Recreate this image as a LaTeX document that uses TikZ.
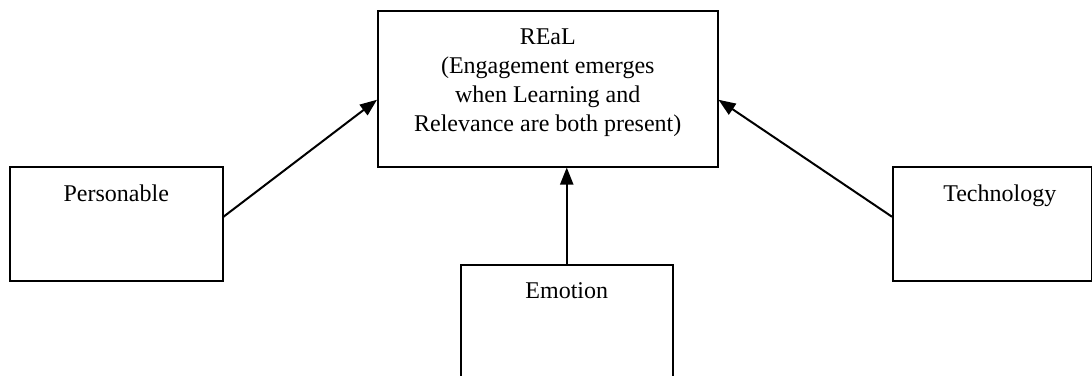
\documentclass[tikz,border=0pt]{standalone}
\usepackage{fontspec}
\setmainfont{Liberation Serif}
\usetikzlibrary{arrows.meta,positioning}

\tikzset{
  box/.style={draw, line width=0.75pt, inner sep=0pt, anchor=north west},
  boxtext/.style={inner sep=0pt, align=center, font=\fontsize{12}{14.5}\selectfont},
  link/.style={line width=1pt, -{Triangle[length=8.5pt,width=6.5pt]}}
}

\begin{document}
\begin{tikzpicture}[x=0.5pt,y=0.5pt,yscale=-1,xscale=1]
    \useasboundingbox (0,0) rectangle (1092,375);
    \clip (0,0) rectangle (1092,375);

    % Boxes
    \node [box, minimum width=170pt, minimum height=78pt] (real) at (377,10) {};
    \node [box, minimum width=106.5pt, minimum height=57pt] (personable) at (9,166) {};
    \node [box, minimum width=106pt, minimum height=65pt] (emotion) at (460,264) {};
    \node [box, minimum width=99.5pt, minimum height=57pt] (technology) at (892,166) {};

    % Text Nodes
    \node [boxtext, below=9pt of real.north] (real-txt) {REaL\\(Engagement emerges\\when Learning and\\Relevance are both present)};
    \node [boxtext, below=9pt of personable.north] (personable-txt) {Personable};
    \node [boxtext, below=9pt of emotion.north] (emotion-txt) {Emotion};
    \node [boxtext, below=9pt of technology.north, xshift=3.75pt] (technology-txt) {Technology};

    % Arrows
    \draw [link] ([yshift=-3.5pt]personable.east) -- ([yshift=5.5pt]real.west);
    \draw [link] (emotion.north) -- (emotion.north |- real.south);
    \draw [link] ([yshift=-3.5pt]technology.west) -- ([yshift=5.5pt]real.east);

\end{tikzpicture}
\end{document}
